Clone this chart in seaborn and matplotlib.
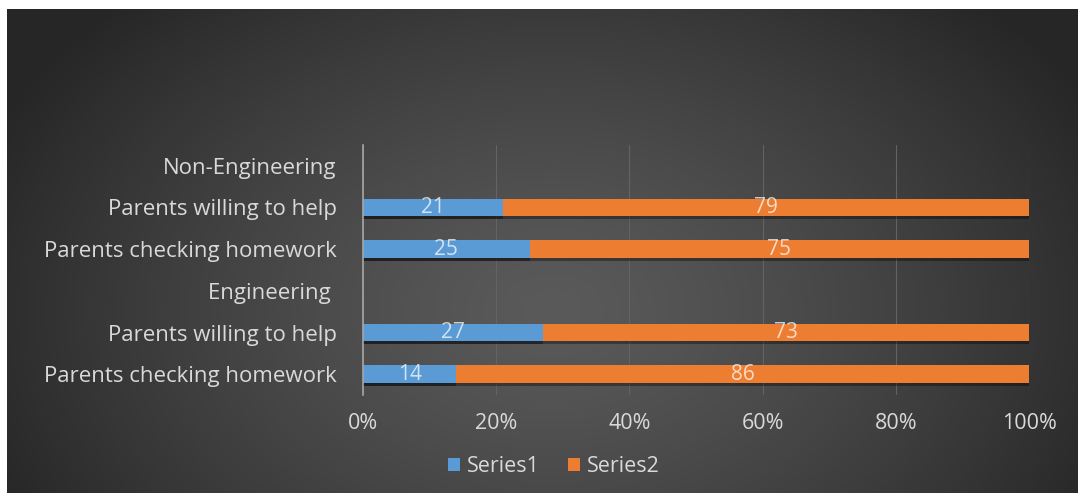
import numpy as np
import pandas as pd
import matplotlib
matplotlib.use("Agg")
import matplotlib.pyplot as plt
import matplotlib.patheffects as pe
from matplotlib.patches import Patch
import seaborn as sns

# ---- data ----
keys = ["NE", "NE_help", "NE_check", "E", "E_help", "E_check"]
categories = ["Non-Engineering", "Parents willing to help", "Parents checking homework",
              "Engineering ", "Parents willing to help", "Parents checking homework"]
series1 = [np.nan, 21, 25, np.nan, 27, 14]
series2 = [np.nan, 79, 75, np.nan, 73, 86]
series_names = ["Series1", "Series2"]
xticks = [0, 20, 40, 60, 80, 100]
xtick_labels = ["0%", "20%", "40%", "60%", "80%", "100%"]

BLUE = "#5B9BD5"
ORANGE = "#ED7D31"
TXT = "#d9d9d9"

sns.set_theme(style="dark")
plt.rcParams["font.family"] = ["Open Sans", "DejaVu Sans"]

df = pd.DataFrame({"key": keys, "label": categories, "s1": series1, "s2": series2})
df["total"] = df["s1"] + df["s2"]

fig = plt.figure(figsize=(10.8, 4.93), dpi=100)
fig.patch.set_facecolor("white")

# background radial gradient
bg = fig.add_axes([7 / 1080, 0, 1 - 9 / 1080, 1 - 9 / 493])
W, H = 1071, 484
xx, yy = np.meshgrid(np.arange(W), np.arange(H))
r = np.sqrt(((xx - 545) / 620.0) ** 2 + ((yy - 300) / 430.0) ** 2)
r = np.clip(r, 0, 1)
v = (90 - (90 - 38) * r ** 1.3) / 255.0
img = np.dstack([v, v, v])
bg.imshow(img, aspect="auto", extent=[0, 1, 0, 1], origin="upper")
bg.set_axis_off()

ax = fig.add_axes([363 / 1080, 1 - 395 / 493, 666 / 1080, 250 / 493])
ax.set_facecolor("none")

sns.barplot(data=df, y="key", x="total", order=keys, color=ORANGE, width=0.43,
            saturation=1, ax=ax, orient="h", errorbar=None)
sns.barplot(data=df, y="key", x="s1", order=keys, color=BLUE, width=0.43,
            saturation=1, ax=ax, orient="h", errorbar=None)

for p in ax.patches:
    p.set_linewidth(0)
    p.set_path_effects([pe.SimplePatchShadow(offset=(0, -2), shadow_rgbFace="black", alpha=0.35),
                        pe.Normal()])

for i, row in df.iterrows():
    if np.isnan(row["s1"]):
        continue
    ax.text(row["s1"] / 2, i, f"{int(row['s1'])}", ha="center", va="center",
            color="white", alpha=0.72, fontsize=15)
    ax.text(row["s1"] + row["s2"] / 2, i, f"{int(row['s2'])}", ha="center", va="center",
            color="white", alpha=0.72, fontsize=15)

ax.set_xlim(0, 100)
ax.set_ylim(5.5, -0.5)
ax.set_xticks(xticks)
ax.set_xticklabels(xtick_labels)
ax.set_yticks(range(len(keys)))
ax.set_yticklabels(categories)
ax.set_xlabel("")
ax.set_ylabel("")
ax.tick_params(axis="both", length=0, colors=TXT, labelsize=15.5)
ax.tick_params(axis="y", pad=19, labelsize=16)
ax.tick_params(axis="x", pad=13)
ax.grid(axis="x", color="#636363", linewidth=0.8)
ax.grid(axis="y", visible=False)
ax.set_axisbelow(True)
for s in ["top", "right", "bottom"]:
    ax.spines[s].set_visible(False)
ax.spines["left"].set_color("#a6a6a6")
ax.spines["left"].set_linewidth(1.2)

handles = [Patch(facecolor=BLUE, edgecolor="none"), Patch(facecolor=ORANGE, edgecolor="none")]
fig.legend(handles, series_names, loc="center", bbox_to_anchor=(554 / 1080, 1 - 467 / 493),
           ncol=2, frameon=False, fontsize=15.5, labelcolor=TXT, handlelength=0.55,
           handleheight=0.55, handletextpad=0.35, columnspacing=1.3)

fig.savefig("out.png", dpi=100, facecolor=fig.get_facecolor())
